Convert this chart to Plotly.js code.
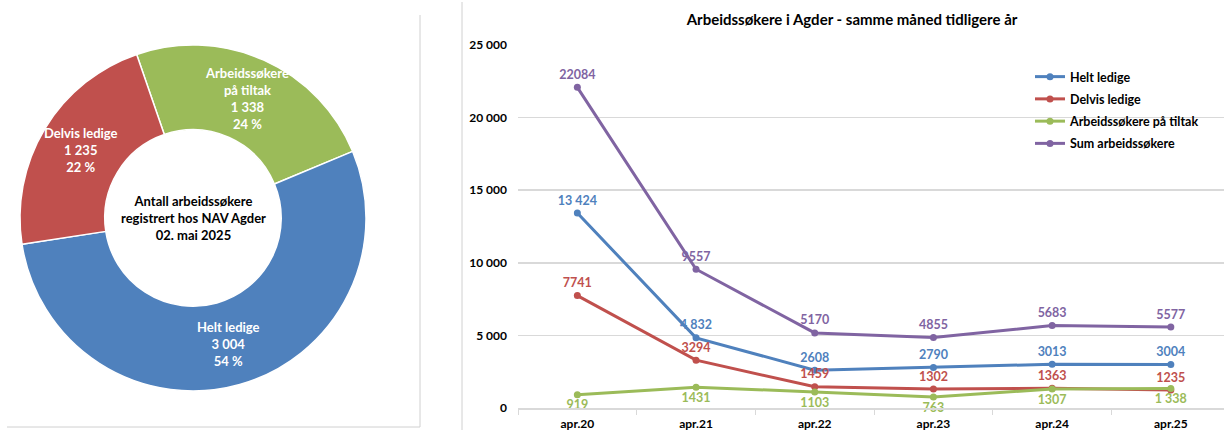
<!DOCTYPE html>
<html>
<head>
<meta charset="utf-8">
<script src="https://cdn.plot.ly/plotly-3.0.1.min.js"></script>
<style>html,body{margin:0;padding:0;background:#fff;}#chart{width:1224px;height:430px;}</style>
</head>
<body>
<div id="chart"></div>
<script>
// ---- Donut data ----
const pieLabels = ["Arbeidssøkere<br>på tiltak", "Helt ledige", "Delvis ledige"];
const pieValues = [1338, 3004, 1235];
const pieColors = ["#9BBB59", "#4F81BD", "#C0504D"];
const centerText = "Antall arbeidssøkere<br>registrert hos NAV Agder<br>02. mai 2025";

// ---- Line chart data ----
const months = ["apr.20", "apr.21", "apr.22", "apr.23", "apr.24", "apr.25"];
const heltLedige = [13424, 4832, 2608, 2790, 3013, 3004];
const delvisLedige = [7741, 3294, 1459, 1302, 1363, 1235];
const tiltak = [919, 1431, 1103, 763, 1307, 1338];
const sumSokere = [22084, 9557, 5170, 4855, 5683, 5577];
const heltLabels = ["13 424", "4 832", "2608", "2790", "3013", "3004"];
const delvisLabels = ["7741", "3294", "1459", "1302", "1363", "1235"];
const tiltakLabels = ["919", "1431", "1103", "763", "1307", "1 338"];
const sumLabels = ["22084", "9557", "5170", "4855", "5683", "5577"];
const seriesNames = ["Helt ledige", "Delvis ledige", "Arbeidssøkere på tiltak", "Sum arbeidssøkere"];
const seriesColors = ["#4F81BD", "#C0504D", "#9BBB59", "#8064A2"];
const yTicks = [0, 5000, 10000, 15000, 20000, 25000];
const yTickText = ["0", "5 000", "10 000", "15 000", "20 000", "25 000"];

const FONT = "Lato, 'Open Sans', sans-serif";
const total = pieValues.reduce((a, b) => a + b, 0);
const fmt = v => String(v).replace(/\B(?=(\d{3})+(?!\d))/g, " ");

const W = 1224, H = 430;
const px = x => x / W, py = y => 1 - y / H;

// donut geometry (pixels)
const pieBox = {x0: 20, x1: 366, y0: 45, y1: 391};
const HOLE = 0.51, ROT = -19;
const cx = (pieBox.x0 + pieBox.x1) / 2, cy = (pieBox.y0 + pieBox.y1) / 2;
const rOut = Math.min(pieBox.x1 - pieBox.x0, pieBox.y1 - pieBox.y0) / 2;
const rMid = (rOut + rOut * HOLE) / 2;

const pie = {
  type: "pie", hole: HOLE, sort: false, direction: "clockwise", rotation: ROT,
  labels: pieLabels, values: pieValues, textinfo: "none",
  marker: {colors: pieColors, line: {color: "#ffffff", width: 1.5}},
  domain: {x: [px(pieBox.x0), px(pieBox.x1)], y: [py(pieBox.y1), py(pieBox.y0)]},
  showlegend: false, hoverinfo: "label+value"
};

// slice labels placed at the middle of each slice (angle derived from values)
const sliceAnns = [];
let cum = 0;
pieValues.forEach((v, i) => {
  const midDeg = ROT + (cum + v / 2) / total * 360;
  cum += v;
  const a = midDeg * Math.PI / 180;
  const x = cx + rMid * Math.sin(a), y = cy - rMid * Math.cos(a);
  sliceAnns.push({
    text: "<b>" + pieLabels[i] + "<br>" + fmt(v) + "<br>" + Math.round(v / total * 100) + " %</b>",
    x: px(x), y: py(y), xref: "paper", yref: "paper", xanchor: "center", yanchor: "middle",
    showarrow: false, align: "center", font: {family: FONT, size: 13, color: "#ffffff"}
  });
});

function line(y, labels, i, pos) {
  return {
    type: "scatter", mode: "lines+markers+text", x: months, y: y, name: seriesNames[i],
    legendgroup: "g" + i,
    text: labels, textposition: pos,
    textfont: {family: FONT, size: 12.5, color: seriesColors[i], weight: "bold"},
    line: {color: seriesColors[i], width: 3},
    marker: {color: seriesColors[i], size: 7},
    cliponaxis: false
  };
}

const data = [
  pie,
  line(heltLedige, heltLabels, 0, "top center"),
  line(delvisLedige, delvisLabels, 1, "top center"),
  line(tiltak, tiltakLabels, 2, "bottom center"),
  line(sumSokere, sumLabels, 3, "top center")
];

const layout = {
  width: W, height: H, margin: {l: 0, r: 0, t: 0, b: 0},
  paper_bgcolor: "#ffffff", plot_bgcolor: "#ffffff",
  font: {family: FONT, size: 12, color: "#000"},
  title: {text: "<b>Arbeidssøkere i Agder - samme måned tidligere år</b>", font: {family: FONT, size: 15, color: "#000"},
          x: px(852), xanchor: "center", xref: "paper", y: py(20), yanchor: "middle", yref: "paper"},
  xaxis: {domain: [px(518), 1], type: "category", range: [-0.5, 5.448],
          showgrid: false, showline: true, linecolor: "#d9d9d9", linewidth: 1.5,
          ticks: "outside", tickson: "boundaries", ticklen: 5, tickcolor: "#d9d9d9",
          ticklabelstandoff: 4,
          tickfont: {family: FONT, size: 12, color: "#000", weight: "bold"}, zeroline: false, fixedrange: true},
  yaxis: {domain: [py(408), py(45)], range: [0, 25000], tickvals: yTicks, ticktext: yTickText,
          showgrid: true, gridcolor: "#d9d9d9", gridwidth: 1.5, zeroline: false, showline: false,
          ticks: "", ticklabelstandoff: 10,
          tickfont: {family: FONT, size: 12, color: "#000", weight: "bold"}, fixedrange: true},
  legend: {x: px(1030), y: py(62), xanchor: "left", yanchor: "top", bgcolor: "rgba(0,0,0,0)",
           font: {family: FONT, size: 12.5, color: "#000", weight: "bold"}, itemwidth: 30, tracegroupgap: 3},
  annotations: [{text: "<b>" + centerText + "</b>", x: px(cx), y: py(cy), xref: "paper", yref: "paper",
                 xanchor: "center", yanchor: "middle",
                 showarrow: false, font: {family: FONT, size: 13, color: "#000"}, align: "center"}].concat(sliceAnns),
  shapes: [
    {type: "line", xref: "paper", yref: "paper", x0: px(420), x1: px(420), y0: py(15), y1: py(427), line: {color: "#d0d0d0", width: 1}},
    {type: "line", xref: "paper", yref: "paper", x0: px(7), x1: px(420), y0: py(427), y1: py(427), line: {color: "#d0d0d0", width: 1}},
    {type: "line", xref: "paper", yref: "paper", x0: px(462), x1: px(462), y0: py(2), y1: py(430), line: {color: "#d0d0d0", width: 1}}
  ]
};

Plotly.newPlot("chart", data, layout, {displayModeBar: false, staticPlot: true});
</script>
</body>
</html>
